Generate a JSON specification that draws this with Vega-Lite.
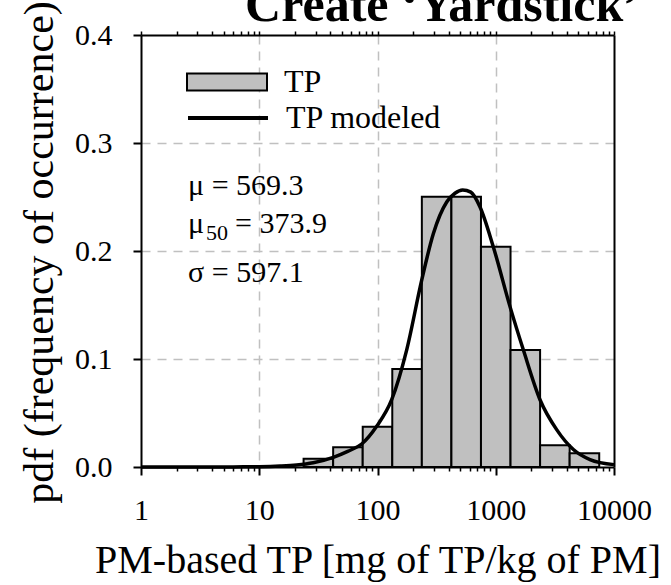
{
  "$schema": "https://vega.github.io/schema/vega-lite/v6.json",
  "width": 473,
  "height": 432,
  "autosize": {"type": "none"},
  "padding": {"left": 141, "top": 35, "right": 57, "bottom": 118},
  "background": "white",
  "config": {
    "font": "Liberation Serif",
    "view": {"stroke": null},
    "axis": {
      "domainColor": "black",
      "tickColor": "black",
      "labelColor": "black",
      "titleColor": "black",
      "labelFont": "Liberation Serif",
      "titleFont": "Liberation Serif",
      "titleFontWeight": "normal"
    },
    "legend": {
      "labelFont": "Liberation Serif",
      "labelColor": "black"
    }
  },
  "datasets": {
    "bins": [
      {"lo": 23.71, "hi": 42.17, "pdf": 0.0077, "series": "TP"},
      {"lo": 42.17, "hi": 74.99, "pdf": 0.0182, "series": "TP"},
      {"lo": 74.99, "hi": 133.35, "pdf": 0.0373, "series": "TP"},
      {"lo": 133.35, "hi": 237.14, "pdf": 0.0907, "series": "TP"},
      {"lo": 237.14, "hi": 421.7, "pdf": 0.2503, "series": "TP"},
      {"lo": 421.7, "hi": 749.89, "pdf": 0.2503, "series": "TP"},
      {"lo": 749.89, "hi": 1333.52, "pdf": 0.204, "series": "TP"},
      {"lo": 1333.52, "hi": 2371.37, "pdf": 0.1083, "series": "TP"},
      {"lo": 2371.37, "hi": 4216.97, "pdf": 0.0201, "series": "TP"},
      {"lo": 4216.97, "hi": 7498.94, "pdf": 0.0127, "series": "TP"}
    ],
    "curve": [
      {"x": 1, "pdf": 0, "series": "TP modeled"},
      {"x": 3, "pdf": 0, "series": "TP modeled"},
      {"x": 6, "pdf": 0.0001, "series": "TP modeled"},
      {"x": 10, "pdf": 0.0003, "series": "TP modeled"},
      {"x": 15, "pdf": 0.0009, "series": "TP modeled"},
      {"x": 20.7, "pdf": 0.0019, "series": "TP modeled"},
      {"x": 28.6, "pdf": 0.004, "series": "TP modeled"},
      {"x": 42.3, "pdf": 0.009, "series": "TP modeled"},
      {"x": 56, "pdf": 0.0145, "series": "TP modeled"},
      {"x": 73.5, "pdf": 0.0213, "series": "TP modeled"},
      {"x": 98.4, "pdf": 0.0377, "series": "TP modeled"},
      {"x": 131.8, "pdf": 0.0623, "series": "TP modeled"},
      {"x": 176.6, "pdf": 0.1085, "series": "TP modeled"},
      {"x": 236.5, "pdf": 0.173, "series": "TP modeled"},
      {"x": 296.5, "pdf": 0.216, "series": "TP modeled"},
      {"x": 384.9, "pdf": 0.2454, "series": "TP modeled"},
      {"x": 452, "pdf": 0.2535, "series": "TP modeled"},
      {"x": 525, "pdf": 0.2565, "series": "TP modeled"},
      {"x": 615, "pdf": 0.2545, "series": "TP modeled"},
      {"x": 736, "pdf": 0.2408, "series": "TP modeled"},
      {"x": 953, "pdf": 0.204, "series": "TP modeled"},
      {"x": 1320, "pdf": 0.1485, "series": "TP modeled"},
      {"x": 1711, "pdf": 0.1085, "series": "TP modeled"},
      {"x": 2367, "pdf": 0.0623, "series": "TP modeled"},
      {"x": 3275, "pdf": 0.0346, "series": "TP modeled"},
      {"x": 4531, "pdf": 0.0162, "series": "TP modeled"},
      {"x": 6266, "pdf": 0.0069, "series": "TP modeled"},
      {"x": 10000, "pdf": 0.0022, "series": "TP modeled"}
    ],
    "stats": [
      {"label": "μ = 569.3", "x": 2.5, "y": 0.2519},
      {"label": "μ", "x": 2.5, "y": 0.2167},
      {"label": "= 373.9", "x": 6.24, "y": 0.2167},
      {"label": "σ = 597.1", "x": 2.5, "y": 0.1713}
    ],
    "sub": [
      {"label": "50", "x": 3.55, "y": 0.2102}
    ]
  },
  "resolve": {"axis": {"x": "independent", "y": "independent"}},
  "layer": [
    {
      "data": {"name": "curve"},
      "mark": {"type": "line", "interpolate": "monotone", "strokeWidth": 3.5, "opacity": 0},
      "encoding": {
        "x": {
          "field": "x", "type": "quantitative",
          "scale": {"type": "log", "domain": [1, 10000], "nice": false, "zero": false},
          "axis": {"orient": "bottom", "values": [10, 100, 1000], "grid": true, "gridColor": "#c0c0c0", "gridDash": [9, 7], "gridWidth": 1.5, "ticks": false, "labels": false, "domain": false, "title": null, "zindex": 0}
        },
        "y": {
          "field": "pdf", "type": "quantitative",
          "scale": {"domain": [0, 0.4], "nice": false},
          "axis": {"orient": "left", "values": [0.1, 0.2, 0.3], "grid": true, "gridColor": "#c0c0c0", "gridDash": [9, 7], "gridWidth": 1.5, "ticks": false, "labels": false, "domain": false, "title": null, "zindex": 0}
        }
      }
    },
    {
      "data": {"name": "bins"},
      "mark": {"type": "bar", "stroke": "black", "strokeWidth": 2, "fillOpacity": 1},
      "encoding": {
        "x": {
          "field": "lo", "type": "quantitative",
          "scale": {"type": "log", "domain": [1, 10000], "nice": false, "zero": false},
          "axis": {"orient": "bottom", "values": [1, 10, 100, 1000, 10000], "format": "d", "tickSize": 8, "tickWidth": 2, "domainWidth": 2, "labelFontSize": 30, "labelPadding": 44, "labelBaseline": "alphabetic", "labelFlush": false, "labelOverlap": false, "grid": false, "title": "PM-based TP [mg of TP/kg of PM]", "titleFontSize": 40, "titleY": 105, "titleBaseline": "alphabetic", "zindex": 1}
        },
        "x2": {"field": "hi"},
        "y": {
          "field": "pdf", "type": "quantitative",
          "scale": {"domain": [0, 0.4], "nice": false},
          "axis": {"orient": "left", "values": [0, 0.1, 0.2, 0.3, 0.4], "format": ".1f", "tickSize": 8, "tickWidth": 2, "domainWidth": 2, "labelFontSize": 30, "labelPadding": 21, "labelBaseline": "middle", "labelFlush": false, "grid": false, "title": "pdf (frequency of occurrence)", "titleFontSize": 42, "titleX": -89, "titleY": 217, "titleAngle": 270, "titleAlign": "center", "titleBaseline": "alphabetic", "zindex": 1}
        },
        "y2": {"datum": 0},
        "fill": {
          "field": "series", "type": "nominal",
          "scale": {"domain": ["TP"], "range": ["#c0c0c0"]},
          "legend": {"orient": "none", "legendX": 45, "legendY": 6, "title": null, "padding": 0, "symbolType": "M-1,-0.21H1V0.21H-1Z", "symbolSize": 6400, "symbolStrokeColor": "black", "symbolStrokeWidth": 2, "symbolFillColor": "#c0c0c0", "labelFontSize": 32, "labelOffset": 16, "labelBaseline": "middle"}
        }
      }
    },
    {
      "data": {"name": "curve"},
      "mark": {"type": "line", "interpolate": "monotone", "strokeWidth": 3.5},
      "encoding": {
        "x": {
          "field": "x", "type": "quantitative",
          "scale": {"type": "log", "domain": [1, 10000], "nice": false, "zero": false},
          "axis": {"orient": "bottom", "values": [2, 3, 4, 5, 6, 7, 8, 9, 20, 30, 40, 50, 60, 70, 80, 90, 200, 300, 400, 500, 600, 700, 800, 900, 2000, 3000, 4000, 5000, 6000, 7000, 8000, 9000], "tickSize": 4, "tickWidth": 1.5, "labels": false, "domain": false, "grid": false, "title": null, "zindex": 1}
        },
        "y": {
          "field": "pdf", "type": "quantitative",
          "scale": {"domain": [0, 0.4], "nice": false},
          "axis": {"orient": "right", "ticks": false, "labels": false, "domain": true, "domainWidth": 2, "grid": false, "title": null, "zindex": 1}
        },
        "stroke": {
          "field": "series", "type": "nominal",
          "scale": {"domain": ["TP modeled"], "range": ["black"]},
          "legend": {"orient": "none", "legendX": 45, "legendY": 41, "title": null, "padding": 0, "symbolType": "stroke", "symbolSize": 6400, "symbolStrokeWidth": 4, "labelFontSize": 32, "labelOffset": 16, "labelBaseline": "middle"}
        }
      }
    },
    {
      "data": {"name": "stats"},
      "mark": {"type": "text", "align": "left", "baseline": "alphabetic", "fontSize": 30, "font": "Liberation Serif", "color": "black"},
      "encoding": {
        "x": {
          "field": "x", "type": "quantitative",
          "scale": {"type": "log", "domain": [1, 10000], "nice": false, "zero": false},
          "axis": {"orient": "top", "values": [1, 2, 3, 4, 5, 6, 7, 8, 9, 10, 20, 30, 40, 50, 60, 70, 80, 90, 100, 200, 300, 400, 500, 600, 700, 800, 900, 1000, 2000, 3000, 4000, 5000, 6000, 7000, 8000, 9000, 10000], "tickSize": 4, "tickWidth": 1.5, "labels": false, "domain": true, "domainWidth": 2, "grid": false, "title": "Create ‘Yardstick’", "titleFontSize": 50, "titleFontWeight": "bold", "titleX": 301, "titleY": -15, "titleAlign": "center", "titleBaseline": "alphabetic", "titleAngle": 0, "zindex": 1}
        },
        "y": {
          "field": "y", "type": "quantitative",
          "scale": {"domain": [0, 0.4], "nice": false},
          "axis": null
        },
        "text": {"field": "label"}
      }
    },
    {
      "data": {"name": "sub"},
      "mark": {"type": "text", "align": "left", "baseline": "alphabetic", "fontSize": 22, "font": "Liberation Serif", "color": "black"},
      "encoding": {
        "x": {
          "field": "x", "type": "quantitative",
          "scale": {"type": "log", "domain": [1, 10000], "nice": false, "zero": false},
          "axis": null
        },
        "y": {
          "field": "y", "type": "quantitative",
          "scale": {"domain": [0, 0.4], "nice": false},
          "axis": null
        },
        "text": {"field": "label"}
      }
    }
  ]
}
